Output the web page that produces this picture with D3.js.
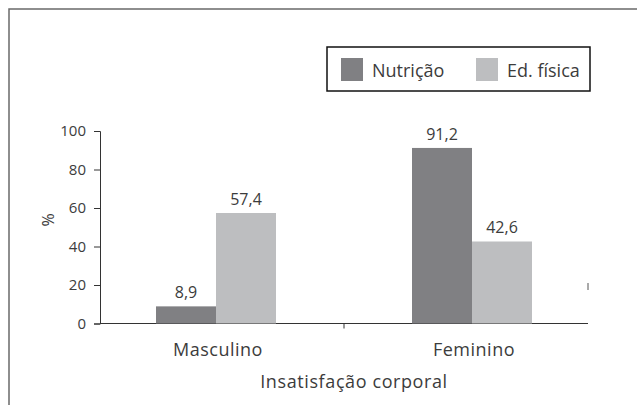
<!DOCTYPE html>
<html>
<head>
<meta charset="utf-8">
<script src="https://cdn.jsdelivr.net/npm/d3@7"></script>
<style>
  body { margin: 0; background: #fff; }
  svg text { font-family: "Open Sans", "Noto Sans", sans-serif; fill: #3c3c3c; }
</style>
</head>
<body>
<div id="chart"></div>
<script>
// Data
const categories = ['Masculino', 'Feminino'];
const series = ['Nutrição', 'Ed. física'];
const nutricao = [8.9, 91.2];
const edFisica = [57.4, 42.6];
const yTicks = [0, 20, 40, 60, 80, 100];

const W = 637, H = 405;
const colors = ['#808083', '#bdbec0'];

const svg = d3.select('#chart').append('svg')
  .attr('width', W).attr('height', H);

// Outer frame (only top + left are visible)
svg.append('path')
  .attr('d', `M9,${H} L9,9 L${W},9`)
  .attr('fill', 'none')
  .attr('stroke', '#6a6a6a')
  .attr('stroke-width', 1.5);

// Scales
const axisL = 100, axisR = 588;
const y = d3.scaleLinear().domain([0, 100]).range([323.5, 131]);
const x0 = d3.scaleBand().domain(categories).range([88, 600]);
const x1 = d3.scaleBand().domain(series).range([0, 120]);

// Y axis
const yAxis = svg.append('g')
  .attr('transform', `translate(${axisL},0)`)
  .call(d3.axisLeft(y).tickValues(yTicks).tickSize(6).tickPadding(8));
yAxis.select('.domain').attr('stroke', '#333');
yAxis.selectAll('.tick line').attr('stroke', '#333');
yAxis.selectAll('text').attr('font-size', 15).attr('fill', '#3c3c3c')
  .style('font-family', '"Open Sans", sans-serif');

// X axis line and middle tick
const xAxisG = svg.append('g');
xAxisG.append('line')
  .attr('x1', axisL).attr('x2', axisR)
  .attr('y1', y(0)).attr('y2', y(0))
  .attr('stroke', '#333').attr('stroke-width', 1);
xAxisG.append('line')
  .attr('x1', (axisL + axisR) / 2).attr('x2', (axisL + axisR) / 2)
  .attr('y1', y(0)).attr('y2', y(0) + 5)
  .attr('stroke', '#333');
// stray end tick on the right
xAxisG.append('line')
  .attr('x1', axisR).attr('x2', axisR)
  .attr('y1', y(20) - 2).attr('y2', y(20) + 5)
  .attr('stroke', '#555');

// Bars
const rows = categories.map((c, i) => ({ cat: c, vals: [nutricao[i], edFisica[i]] }));
const grp = svg.append('g').selectAll('g').data(rows).enter().append('g')
  .attr('transform', d => `translate(${x0(d.cat) + x0.bandwidth() / 2 - 60},0)`);

grp.selectAll('rect').data(d => d.vals.map((v, j) => ({ s: series[j], v, j })))
  .enter().append('rect')
  .attr('x', d => x1(d.s))
  .attr('width', x1.bandwidth())
  .attr('y', d => y(d.v))
  .attr('height', d => y(0) - y(d.v))
  .attr('fill', d => colors[d.j]);

grp.selectAll('text.val').data(d => d.vals.map((v, j) => ({ s: series[j], v, j })))
  .enter().append('text')
  .attr('class', 'val')
  .attr('x', d => x1(d.s) + x1.bandwidth() / 2)
  .attr('y', d => y(d.v) - 8)
  .attr('text-anchor', 'middle')
  .attr('font-size', 16)
  .text(d => d3.format('.1f')(d.v).replace('.', ','));

// Category labels
svg.selectAll('text.cat').data(categories).enter().append('text')
  .attr('class', 'cat')
  .attr('x', d => x0(d) + x0.bandwidth() / 2 + 2)
  .attr('y', 356)
  .attr('text-anchor', 'middle')
  .attr('font-size', 18)
  .attr('letter-spacing', 0.5)
  .text(d => d);

// Axis titles
svg.append('text')
  .attr('x', 354).attr('y', 388)
  .attr('text-anchor', 'middle')
  .attr('font-size', 18)
  .attr('letter-spacing', 0.6)
  .text('Insatisfação corporal');

svg.append('text')
  .attr('transform', `translate(54,220) rotate(-90)`)
  .attr('text-anchor', 'middle')
  .attr('font-size', 16)
  .text('%');

// Legend
const lg = svg.append('g').attr('transform', 'translate(327,47)');
lg.append('rect')
  .attr('width', 263).attr('height', 44)
  .attr('fill', '#fff').attr('stroke', '#111').attr('stroke-width', 1.5);
const legX = [14, 149];
series.forEach((s, i) => {
  lg.append('rect')
    .attr('x', legX[i]).attr('y', 11)
    .attr('width', 22).attr('height', 23)
    .attr('fill', colors[i]);
  lg.append('text')
    .attr('x', legX[i] + 31).attr('y', 30)
    .attr('font-size', 18)
    .text(s);
});
</script>
</body>
</html>
